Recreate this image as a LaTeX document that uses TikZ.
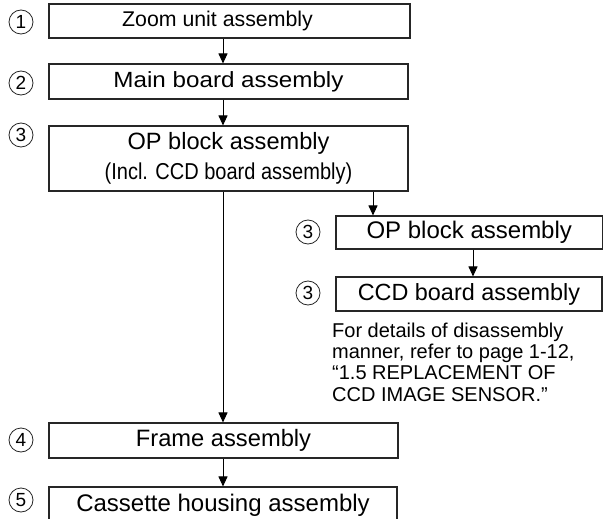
\documentclass[tikz,border=0pt]{standalone}
\usepackage{fontspec}
\setmainfont{Liberation Sans}
\usetikzlibrary{arrows.meta}
\begin{document}
\begin{tikzpicture}[x=1pt,y=-1pt,
  box/.style={draw=black!85, line width=1.1pt, inner sep=0pt, anchor=center},
  arr/.style={draw=black, line width=1pt, -{Triangle[width=9pt,length=10pt]}},
  num/.style={circle, draw=black!85, line width=0.8pt, inner sep=0pt, minimum size=24pt,
              font=\fontsize{19}{19}\selectfont},
  para/.style={align=left, inner sep=0pt, anchor=north west,
              font=\fontsize{20}{21.3}\selectfont}]
\useasboundingbox (0,0) rectangle (603,519);
\clip (0,0) rectangle (603,519);
\fill[white] (0,0) rectangle (603,519);

% column coordinates for connectors
\coordinate (colA) at (223,0);
\coordinate (colB) at (373,0);
\coordinate (colC) at (473,0);

% boxes
\node[box, minimum width=361pt, minimum height=34pt, font=\fontsize{21.3}{24}\selectfont]
  (b1) at (229.5,21) {Zoom unit assembly\kern24pt};
\node[box, minimum width=359pt, minimum height=35pt, font=\fontsize{22}{24}\selectfont]
  (b2) at (228.5,81.5) {\scalebox{1.1}[1]{Main board assembly}};
\node[box, minimum width=359pt, minimum height=65pt, align=center, font=\fontsize{23.6}{30}\selectfont]
  (b3) at (228.5,158.5) {OP block assembly\\ \scalebox{0.87}[1]{\fontsize{23}{30}\selectfont (Incl. CCD board assembly)}};
\node[box, minimum width=266.5pt, minimum height=33pt, font=\fontsize{24}{26}\selectfont]
  (op) at (469.25,232.5) {OP block assembly};
\node[box, minimum width=266pt, minimum height=34pt, font=\fontsize{23.4}{26}\selectfont]
  (ccd) at (469,294) {CCD board assembly};
\node[box, minimum width=349pt, minimum height=35pt, font=\fontsize{23.7}{26}\selectfont]
  (fr) at (223.5,440.5) {Frame assembly};
\node[box, minimum width=348pt, minimum height=36pt, font=\fontsize{24}{26}\selectfont]
  (cas) at (223,505) {Cassette housing assembly};

% note
\node[para] (note) at (332,322.5) {For details of disassembly\\
manner, refer to page 1-12,\\
“1.5 REPLACEMENT OF\\
CCD IMAGE SENSOR.”};

% circled numbers
\node[num] (n1) at (21,22) {1};
\node[num] (n2) at (21,83) {2};
\node[num] (n3) at (21,135) {3};
\node[num] (n3b) at (308,232) {3};
\node[num] (n3c) at (308,293) {3};
\node[num] (n4) at (21,440) {4};
\node[num] (n5) at (21,500) {5};

% connectors
\draw[arr] (b1.south -| colA) -- (b2.north -| colA);
\draw[arr] (b2.south -| colA) -- (b3.north -| colA);
\draw[arr] (b3.south -| colA) -- (fr.north -| colA);
\draw[arr] (b3.south -| colB) -- (op.north -| colB);
\draw[arr] (op.south -| colC) -- (ccd.north -| colC);
\draw[arr] (fr.south -| colA) -- (cas.north -| colA);
\end{tikzpicture}
\end{document}
